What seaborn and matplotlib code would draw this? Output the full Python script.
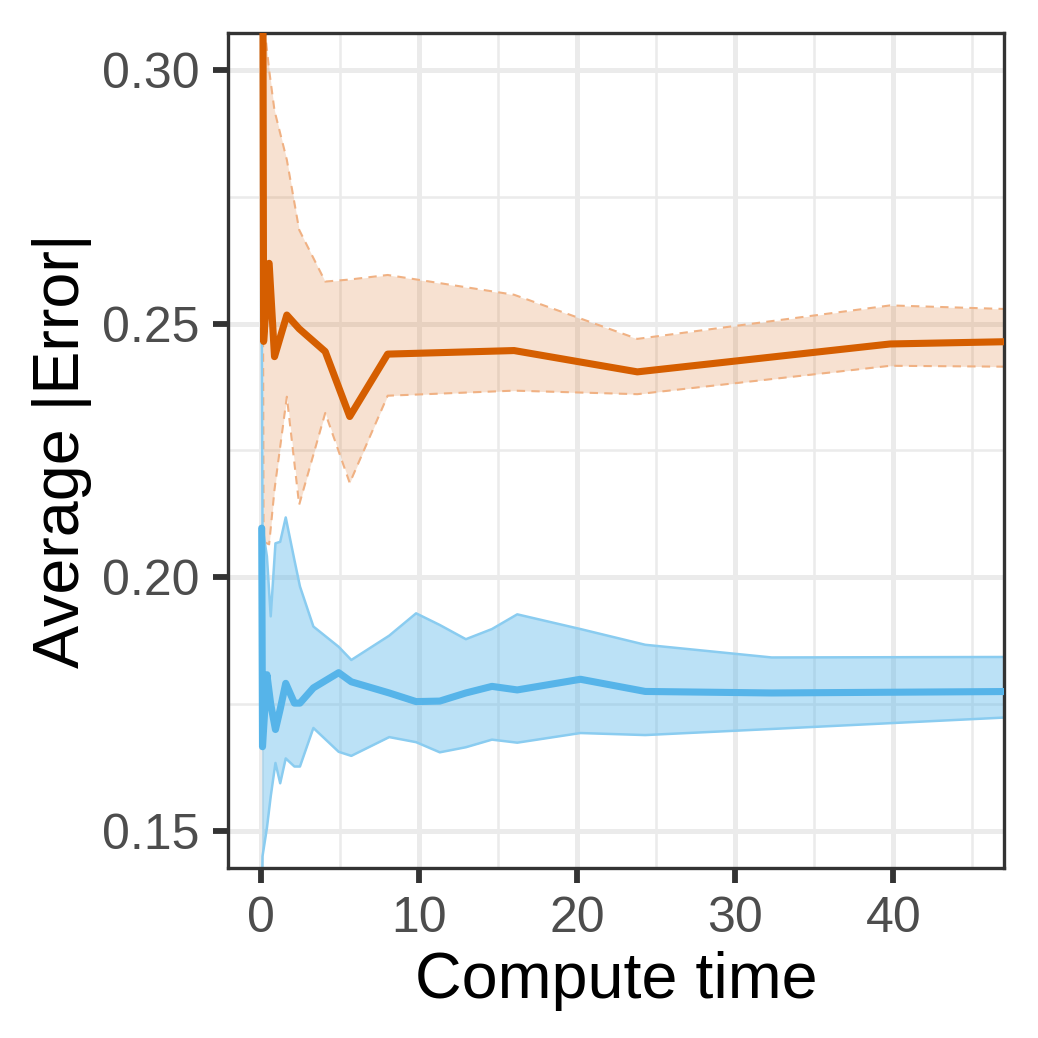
import numpy as np
import pandas as pd
import seaborn as sns
import matplotlib.pyplot as plt

# orange series (higher error)
orange_time = [0.10, 0.15, 0.50, 0.84, 1.62, 2.40, 4.05, 5.60, 8.00, 16.0, 23.8, 39.8, 48.0]
orange_mean = [0.330, 0.2465, 0.2619, 0.2435, 0.2517, 0.2490, 0.2445, 0.2317, 0.2440, 0.2447, 0.2405, 0.2460, 0.2465]
orange_upper = [0.340, 0.310, 0.300, 0.292, 0.2823, 0.2685, 0.2583, 0.2587, 0.2596, 0.2557, 0.2470, 0.2536, 0.2528]
orange_lower = [0.270, 0.207, 0.2065, 0.2173, 0.2356, 0.2143, 0.2324, 0.2186, 0.2358, 0.2368, 0.2361, 0.2417, 0.2415]

# blue series (lower error)
blue_time = [0.03, 0.08, 0.36, 0.60, 0.90, 1.20, 1.55, 2.10, 2.45, 3.30, 4.90, 5.70, 8.10,
             9.80, 11.3, 12.95, 14.6, 16.2, 20.2, 24.3, 32.3, 48.0]
blue_mean = [0.2097, 0.1666, 0.1808, 0.1750, 0.1700, 0.1740, 0.1791, 0.1752, 0.1752, 0.1782, 0.1812, 0.1794, 0.1772,
             0.1755, 0.1756, 0.1772, 0.1785, 0.1778, 0.1799, 0.1775, 0.1772, 0.1775]
blue_upper = [0.2510, 0.2100, 0.2041, 0.1923, 0.2067, 0.2070, 0.2118, 0.2034, 0.1982, 0.1903, 0.1863, 0.1837, 0.1885,
              0.1929, 0.1906, 0.1878, 0.1898, 0.1927, 0.1898, 0.1867, 0.1842, 0.1843]
blue_lower = [0.1300, 0.1450, 0.1506, 0.1568, 0.1634, 0.1594, 0.1643, 0.1627, 0.1627, 0.1703, 0.1656, 0.1648, 0.1685,
              0.1675, 0.1655, 0.1665, 0.1680, 0.1674, 0.1693, 0.1689, 0.1701, 0.1725]

x_ticks = [0, 10, 20, 30, 40]
y_ticks = [0.15, 0.20, 0.25, 0.30]

ORANGE = "#D55E00"
BLUE = "#56B4E9"

df = pd.concat([
    pd.DataFrame({"time": orange_time, "err": orange_mean, "lo": orange_lower, "hi": orange_upper, "method": "orange"}),
    pd.DataFrame({"time": blue_time, "err": blue_mean, "lo": blue_lower, "hi": blue_upper, "method": "blue"}),
])

sns.set_theme(style="white")
plt.rcParams['font.family'] = ['Liberation Sans', 'DejaVu Sans']

fig = plt.figure(figsize=(3.46, 3.46), dpi=300)
ax = fig.add_axes([0.2197, 0.1638, 0.9672 - 0.2197, 0.9682 - 0.1638])

# grid like theme_bw
for v in [5, 15, 25, 35, 45]:
    ax.axvline(v, color="#EBEBEB", lw=0.6, zorder=0)
for v in [0.175, 0.225, 0.275]:
    ax.axhline(v, color="#EBEBEB", lw=0.6, zorder=0)
for v in x_ticks:
    ax.axvline(v, color="#EBEBEB", lw=1.2, zorder=0)
for v in y_ticks:
    ax.axhline(v, color="#EBEBEB", lw=1.2, zorder=0)

# ribbons
o = df[df.method == "orange"]
b = df[df.method == "blue"]
ax.fill_between(o.time, o.lo, o.hi, color=ORANGE, alpha=0.18, lw=0, zorder=1)
ax.plot(o.time, o.lo, color="#F0B183", lw=0.5, ls=(0, (4, 3)), zorder=1.5)
ax.plot(o.time, o.hi, color="#F0B183", lw=0.5, ls=(0, (4, 3)), zorder=1.5)
ax.fill_between(b.time, b.lo, b.hi, color=BLUE, alpha=0.4, lw=0, zorder=1)
ax.plot(b.time, b.lo, color="#8ACCF0", lw=0.6, zorder=1.5)
ax.plot(b.time, b.hi, color="#8ACCF0", lw=0.6, zorder=1.5)

sns.lineplot(data=df, x="time", y="err", hue="method", palette={"orange": ORANGE, "blue": BLUE},
             estimator=None, sort=False, lw=1.7, legend=False, ax=ax, zorder=3)

ax.set_xlim(-2.1, 47.0)
ax.set_ylim(0.1427, 0.3073)
ax.set_xticks(x_ticks)
ax.set_yticks(y_ticks)
ax.set_yticklabels([f"{v:.2f}" for v in y_ticks])
ax.tick_params(axis="both", which="major", length=3.6, width=1.4, color="#333333",
               labelsize=12, labelcolor="#4D4D4D", pad=3.2, bottom=True, left=True)
for s in ax.spines.values():
    s.set_color("#333333")
    s.set_linewidth(0.8)
ax.set_xlabel("Compute time", fontsize=15.5, color="black", labelpad=2)
ax.set_ylabel("Average |Error|", fontsize=15.5, color="black", labelpad=2.5)

fig.savefig("out.png", dpi=300)
